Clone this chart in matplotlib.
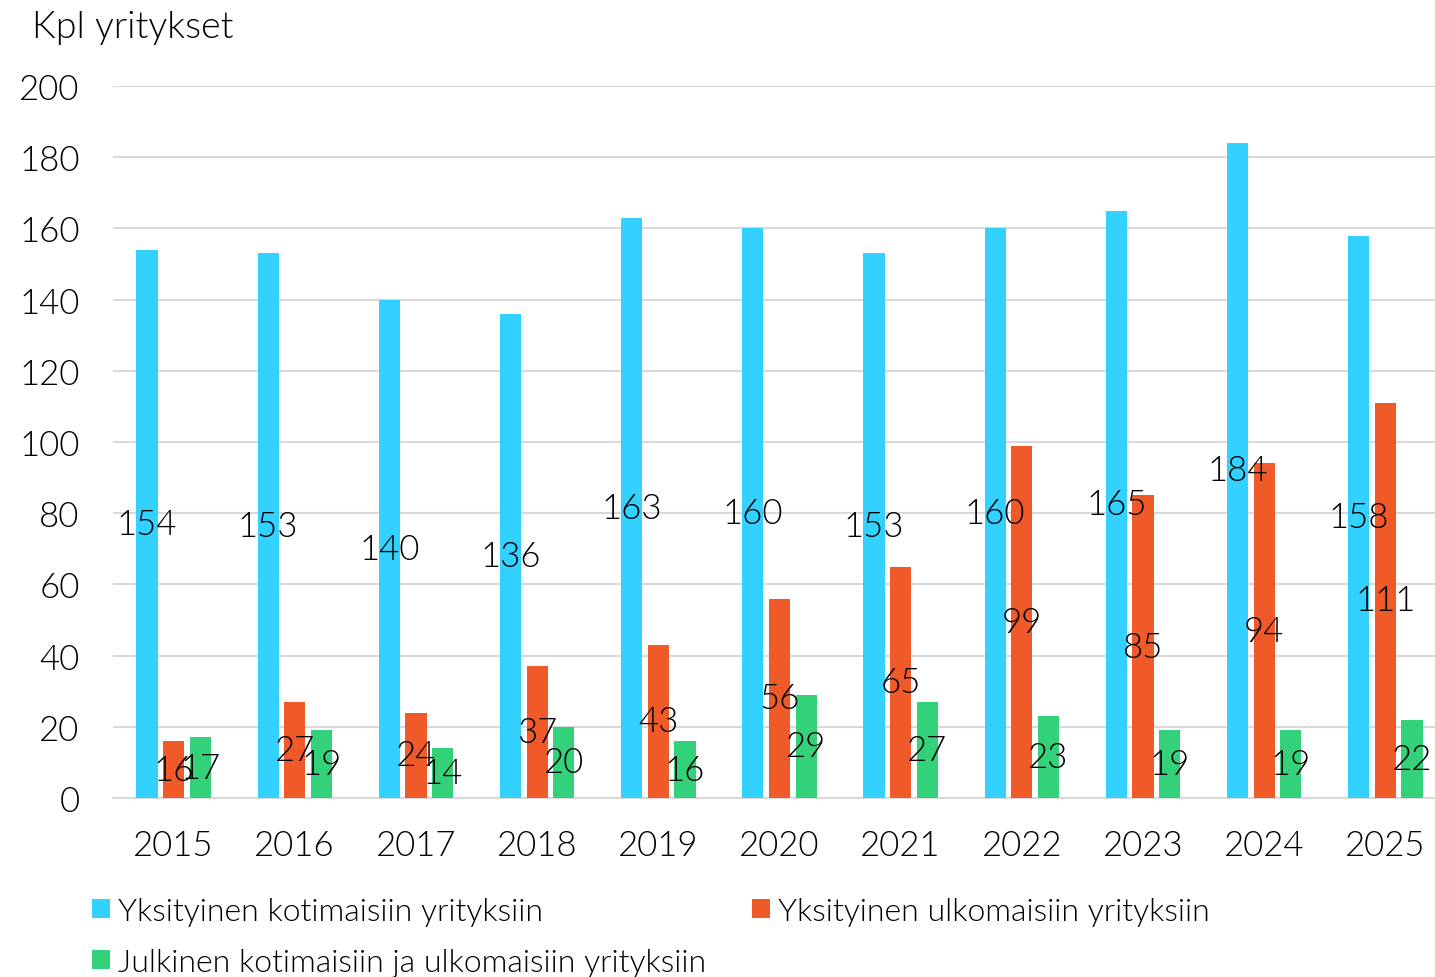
import matplotlib
matplotlib.use("Agg")
import matplotlib.pyplot as plt
import numpy as np

years = ["2015", "2016", "2017", "2018", "2019", "2020", "2021", "2022", "2023", "2024", "2025"]
series_names = ["Yksityinen kotimaisiin yrityksiin",
                "Yksityinen ulkomaisiin yrityksiin",
                "Julkinen kotimaisiin ja ulkomaisiin yrityksiin"]
priv_dom = [154, 153, 140, 136, 163, 160, 153, 160, 165, 184, 158]
priv_for = [16, 27, 24, 37, 43, 56, 65, 99, 85, 94, 111]
public = [17, 19, 14, 20, 16, 29, 27, 23, 19, 19, 22]
yticks = [0, 20, 40, 60, 80, 100, 120, 140, 160, 180, 200]
colors = ["#33D1FF", "#F05A28", "#33D17A"]

plt.rcParams['font.family'] = ['Lato', 'DejaVu Sans']
plt.rcParams['font.weight'] = 300

W, H = 1435, 978
fig = plt.figure(figsize=(W / 100, H / 100), dpi=100)
ax = fig.add_axes([113 / W, 179 / H, (1446 - 113) / W, (799 - 87) / H])

x = np.arange(len(years))
bw = 0.175
step = 0.22
bars = []
for i, (vals, c, name) in enumerate(zip([priv_dom, priv_for, public], colors, series_names)):
    b = ax.bar(x + (i - 1) * step, vals, width=bw, color=c, label=name, zorder=3)
    bars.append(b)
    for xi, v in zip(x + (i - 1) * step, vals):
        ax.text(xi, v / 2, str(v), ha='center', va='center', fontsize=25,
                color='black', zorder=4)

ax.set_xlim(-0.5, len(years) - 0.5)
ax.set_ylim(0, 200)
ax.set_yticks(yticks)
ax.set_yticklabels([str(t) for t in yticks])
ax.set_xticks(x)
ax.set_xticklabels(years)
ax.tick_params(axis='both', length=0, labelsize=25, colors='black')
ax.tick_params(axis='y', pad=24)
ax.tick_params(axis='x', pad=22)
ax.grid(axis='y', color='#D9D9D9', linewidth=1.5, zorder=0)
for s in ['top', 'right', 'left']:
    ax.spines[s].set_visible(False)
ax.spines['bottom'].set_color('#D9D9D9')
ax.spines['bottom'].set_linewidth(1.5)

fig.text(32 / W, 1 - 28 / H, "Kpl yritykset", fontsize=27, va='center', ha='left')

handles = [bars[0], bars[2], bars[1]]
labels = [series_names[0], series_names[2], series_names[1]]
fig.legend(handles, labels, loc='upper left', bbox_to_anchor=(92 / W, 1 - 898 / H),
           ncol=2, frameon=False, fontsize=23, handlelength=0.55, handleheight=0.55,
           handletextpad=0.25, columnspacing=1.45, labelspacing=0.68, borderaxespad=0,
           borderpad=0)

fig.savefig("out.png", dpi=100)
